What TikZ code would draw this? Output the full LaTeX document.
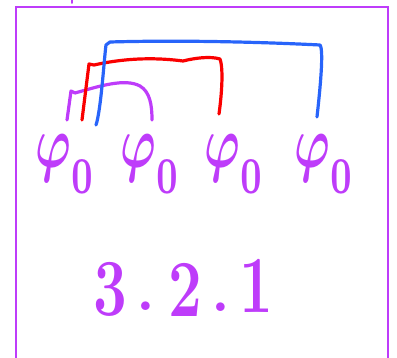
\documentclass[tikz,border=0pt]{standalone}
\definecolor{pur}{RGB}{190,60,250}
\definecolor{rd}{RGB}{250,0,0}
\definecolor{bl}{RGB}{40,100,250}
\newcommand{\fieldsym}{\scalebox{4.8}[7.4]{\boldmath$\varphi_{\raisebox{-1.9pt}{$\scriptstyle 0$}}$}}
\newcommand{\dig}[1]{\scalebox{1}[1.35]{#1}}
\begin{document}
\begin{tikzpicture}[x=1pt,y=-1pt,
  pen/.style={line width=3.2pt,line cap=round,line join=round},
  phi/.style={text=pur,inner sep=0pt},
  digit/.style={text=pur,inner sep=0pt,font=\fontsize{60}{64}\selectfont\bfseries}]
\useasboundingbox (0,0) rectangle (397,358);
% frame
\draw[pur,line width=2pt] (15.5,358) -- (15.5,7) -- (388,7) -- (388,358);
\draw[pur,pen,line width=2pt] (72,0) -- (72,3);
% fields
\node[phi] (p1) at (66,164) {\fieldsym};
\node[phi] (p2) at (151,164) {\fieldsym};
\node[phi] (p3) at (235,164) {\fieldsym};
\node[phi] (p4) at (325,164) {\fieldsym};
% contractions
\coordinate (a1) at (67,120);
\coordinate (a2) at (152,120);
\coordinate (b1) at (82,120);
\coordinate (b2) at (219,114);
\coordinate (c1) at (96,125);
\coordinate (c2) at (317,117);
\draw[pen,pur] (a1) -- (71,91) -- (75,93) .. controls (100,86) and (125,78) .. (140,86) .. controls (150,92) and (152,105) .. (a2);
\draw[pen,rd] (b1) -- (89,64) -- (94,65) .. controls (130,57) and (160,58) .. (183,61) .. controls (195,58) and (210,56) .. (220,59) .. controls (224,70) and (221,100) .. (b2);
\draw[pen,bl] (c1) .. controls (101,110) and (104,60) .. (106,45) -- (110,42) .. controls (180,40) and (260,42) .. (320,45) .. controls (324,50) and (320,90) .. (c2);
% label
\node[digit] (d1) at (110,289) {\dig{3}};
\node[digit] (d2) at (146,306) {.};
\node[digit] (d3) at (185,290) {\dig{2}};
\node[digit] (d4) at (221,307) {.};
\node[digit] (d5) at (256,286) {\dig{1}};
\end{tikzpicture}
\end{document}
